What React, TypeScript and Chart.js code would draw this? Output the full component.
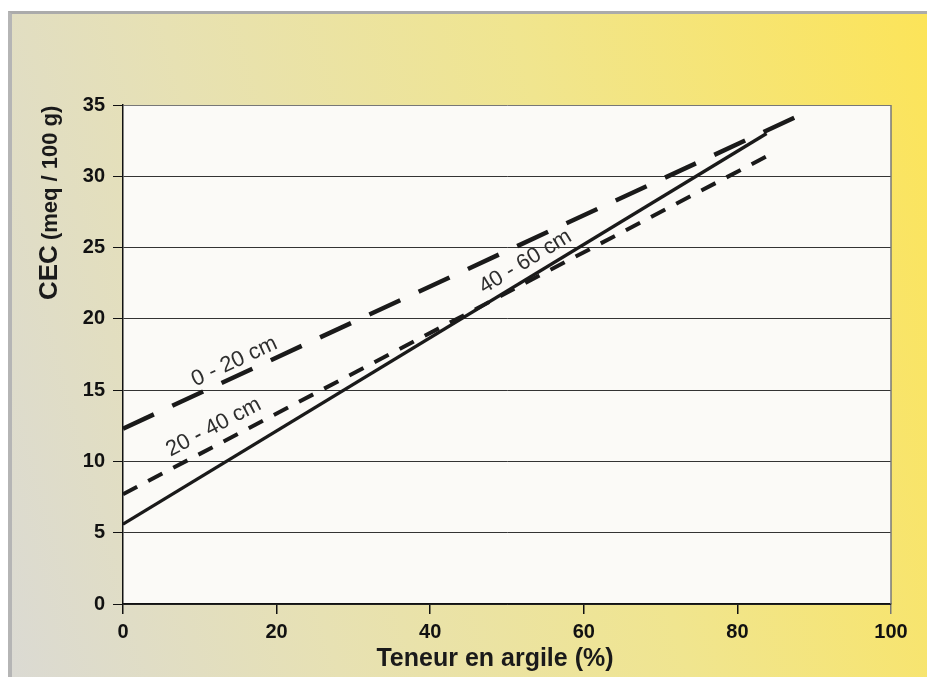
import React, { useEffect, useRef } from "react";
import { Chart, registerables } from "chart.js";

Chart.register(...registerables);

// Clay content (%) and CEC (meq / 100 g) end points of each regression line
const clay0to20 = [0, 87.4];
const cec0to20 = [12.3, 34.1];
const clay20to40 = [0, 83.8];
const cec20to40 = [7.7, 31.4];
const clay40to60 = [0, 83.8];
const cec40to60 = [5.6, 33.0];

const seriesNames = ["0 - 20 cm", "20 - 40 cm", "40 - 60 cm"];
// label anchor points, in data units (clay %, CEC)
const labelClay = [14.5, 11.8, 52.4];
const labelCec = [17.0, 12.4, 24.0];

const xTicks = [0, 20, 40, 60, 80, 100];
const yTicks = [0, 5, 10, 15, 20, 25, 30, 35];

const xTitle = "Teneur en argile (%)";
const yTitleMain = "CEC";
const yTitleUnit = "(meq / 100 g)";

const FONT = "'Liberation Sans', Arial, sans-serif";

const toPoints = (xs: number[], ys: number[]) => xs.map((x, i) => ({ x, y: ys[i] }));

const decorPlugin = {
  id: "decor",
  beforeDraw(chart: any) {
    const { ctx, chartArea: a } = chart;
    ctx.save();
    ctx.fillStyle = "#fbfaf7";
    ctx.fillRect(a.left, a.top, a.right - a.left, a.bottom - a.top);
    ctx.restore();
  },
  afterDraw(chart: any) {
    const { ctx, chartArea: a, scales } = chart;
    const xs = scales.x;
    const ys = scales.y;
    ctx.save();
    // right frame
    ctx.strokeStyle = "#777";
    ctx.lineWidth = 1.5;
    ctx.beginPath();
    ctx.moveTo(a.right, a.top);
    ctx.lineTo(a.right, a.bottom);
    ctx.stroke();

    // series labels along lines
    const xsArr = [clay0to20, clay20to40, clay40to60];
    const ysArr = [cec0to20, cec20to40, cec40to60];
    ctx.fillStyle = "#2e2e2e";
    ctx.font = `22px ${FONT}`;
    ctx.textAlign = "center";
    ctx.textBaseline = "middle";
    for (let i = 0; i < seriesNames.length; i++) {
      const x0 = xs.getPixelForValue(xsArr[i][0]);
      const y0 = ys.getPixelForValue(ysArr[i][0]);
      const x1 = xs.getPixelForValue(xsArr[i][1]);
      const y1 = ys.getPixelForValue(ysArr[i][1]);
      const ang = Math.atan2(y1 - y0, x1 - x0);
      const px = xs.getPixelForValue(labelClay[i]);
      const py = ys.getPixelForValue(labelCec[i]);
      ctx.save();
      ctx.translate(px, py);
      ctx.rotate(ang);
      ctx.fillText(seriesNames[i], 0, 0);
      ctx.restore();
    }

    // x title
    ctx.fillStyle = "#1a1a1a";
    ctx.font = `bold 25px ${FONT}`;
    ctx.textAlign = "center";
    ctx.textBaseline = "alphabetic";
    ctx.fillText(xTitle, (a.left + a.right) / 2 - 12, a.bottom + 62);

    // y title
    ctx.save();
    ctx.translate(a.left - 66, a.top + 195);
    ctx.rotate(-Math.PI / 2);
    ctx.textAlign = "left";
    ctx.font = `bold 26px ${FONT}`;
    ctx.fillText(yTitleMain, 0, 0);
    const w = ctx.measureText(yTitleMain).width;
    ctx.font = `bold 22px ${FONT}`;
    ctx.fillText(yTitleUnit, w + 5, 0);
    ctx.restore();
    ctx.restore();
  },
};

export default function App() {
  const ref = useRef<HTMLCanvasElement | null>(null);
  useEffect(() => {
    if (!ref.current) return;
    const lineColor = "#1a1a1a";
    const chart = new Chart(ref.current, {
      type: "line",
      data: {
        datasets: [
          {
            label: seriesNames[0],
            data: toPoints(clay0to20, cec0to20),
            borderColor: lineColor,
            borderWidth: 4.5,
            borderDash: [34, 20.3],
            borderCapStyle: "butt",
            pointRadius: 0,
            fill: false,
          },
          {
            label: seriesNames[1],
            data: toPoints(clay20to40, cec20to40),
            borderColor: lineColor,
            borderWidth: 4,
            borderDash: [16, 12.4],
            borderCapStyle: "butt",
            pointRadius: 0,
            fill: false,
          },
          {
            label: seriesNames[2],
            data: toPoints(clay40to60, cec40to60),
            borderColor: lineColor,
            borderWidth: 3.3,
            pointRadius: 0,
            fill: false,
          },
        ],
      },
      options: {
        animation: false,
        responsive: false,
        maintainAspectRatio: false,
        layout: { padding: { left: 10, top: 105, right: 36, bottom: 0 } },
        plugins: { legend: { display: false }, tooltip: { enabled: false }, title: { display: false } },
        scales: {
          x: {
            type: "linear",
            min: 0,
            max: 100,
            afterBuildTicks(scale: any) {
              scale.ticks = xTicks.map((v) => ({ value: v }));
            },
            afterFit(scale: any) {
              scale.height = 73;
            },
            ticks: {
              color: "#111",
              font: { family: FONT, size: 20, weight: "bold" },
              padding: 6,
              maxRotation: 0,
            },
            grid: {
              drawOnChartArea: false,
              drawTicks: true,
              tickLength: 10,
              tickColor: (c: any) => (c.tick && c.tick.value === 100 ? "#777" : "#111"),
              lineWidth: 1.5,
            },
            border: { display: true, color: "#111", width: 1.5 },
          },
          y: {
            type: "linear",
            min: 0,
            max: 35,
            afterBuildTicks(scale: any) {
              scale.ticks = yTicks.map((v) => ({ value: v }));
            },
            afterFit(scale: any) {
              scale.width = 113;
            },
            ticks: {
              color: "#111",
              font: { family: FONT, size: 20, weight: "bold" },
              padding: 8,
            },
            grid: {
              color: (c: any) => (c.tick && c.tick.value === 35 ? "#777" : "#333"),
              lineWidth: 1,
              drawTicks: true,
              tickLength: 10,
              tickColor: "#111",
            },
            border: { display: true, color: "#111", width: 1.5 },
          },
        },
      },
      plugins: [decorPlugin],
    });
    return () => chart.destroy();
  }, []);

  return (
    <div style={{ position: "fixed", left: 0, top: 0, width: 927, height: 677, background: "#fff", overflow: "hidden" }}>
      <div
        style={{
          position: "absolute",
          left: 8,
          top: 11,
          right: 0,
          bottom: 0,
          borderTop: "3px solid #ababab",
          borderLeft: "4px solid #b5b5b5",
          background: "linear-gradient(75deg, #dbdad3 0%, #e7e1b3 30%, #f0e58f 62%, #fce459 100%)",
        }}
      />
      <canvas ref={ref} width={927} height={677} style={{ position: "absolute", left: 0, top: 0, width: 927, height: 677 }} />
    </div>
  );
}
